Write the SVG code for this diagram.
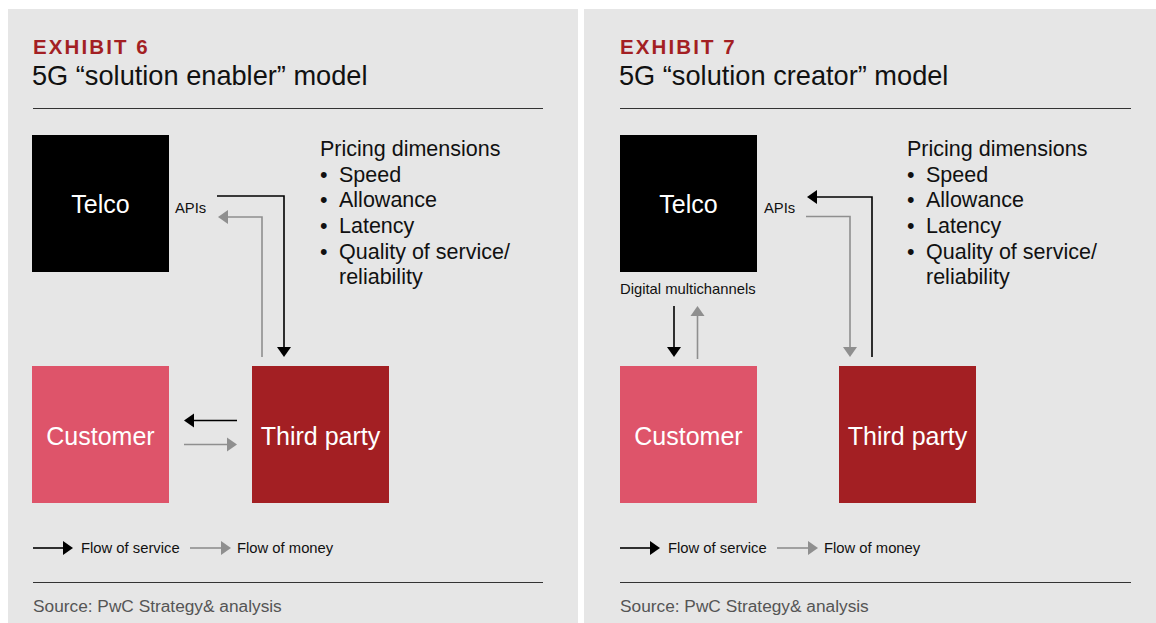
<svg xmlns="http://www.w3.org/2000/svg" width="1156" height="623" viewBox="0 0 1156 623">
<defs>
<style>
text{font-family:"Liberation Sans",Arial,sans-serif}
.ex{font-size:20.5px;font-weight:bold;fill:#a31f23;letter-spacing:2.1px}
.tt{font-size:27.2px;fill:#111}
.nl{font-size:25px;fill:#fff;text-anchor:middle}
.pd{font-size:21.5px;fill:#111}
.sm{font-size:14.8px;fill:#111}
.lg{font-size:14.8px;fill:#111}
.src{font-size:17.3px;fill:#555}
.rule{stroke:#333;stroke-width:1}
.svc{stroke:#000;stroke-width:1.6;fill:none}
.mon{stroke:#8f8f8f;stroke-width:1.6;fill:none}
</style>
<path id="tri" d="M0,-7L10,0L0,7z"/>
</defs>
<rect width="1156" height="623" fill="#fff"/>
<rect x="8" y="9" width="570" height="614" fill="#e6e6e6"/>
<rect x="584" y="9" width="572" height="614" fill="#e6e6e6"/>

<!-- Panel 1 -->
<g id="panel1-header">
<text class="ex" x="33" y="54">EXHIBIT 6</text>
<text class="tt" x="32" y="85">5G “solution enabler” model</text>
<line class="rule" x1="33" y1="108.5" x2="543" y2="108.5"/>
</g>
<g id="p1-telco"><rect x="32" y="135" width="137" height="137" fill="#000"/><text class="nl" x="100.5" y="213">Telco</text></g>
<g id="p1-customer"><rect x="32" y="366" width="137" height="137" fill="#de546a"/><text class="nl" x="100.5" y="445">Customer</text></g>
<g id="p1-thirdparty"><rect x="252" y="366" width="137" height="137" fill="#a31f23"/><text class="nl" x="320.5" y="445">Third party</text></g>
<g id="p1-pricing">
<text class="pd" x="320" y="156">Pricing dimensions</text>
<text class="pd" x="320" y="182">•</text><text class="pd" x="339" y="182">Speed</text>
<text class="pd" x="320" y="207">•</text><text class="pd" x="339" y="207">Allowance</text>
<text class="pd" x="320" y="233">•</text><text class="pd" x="339" y="233">Latency</text>
<text class="pd" x="320" y="259">•</text><text class="pd" x="339" y="259">Quality of service/</text>
<text class="pd" x="339" y="284">reliability</text>
</g>
<g id="p1-connectors">
<text class="sm" x="175" y="213">APIs</text>
<polyline class="svc" points="217,196 284,196 284,348"/>
<use href="#tri" transform="translate(284,347) rotate(90)" fill="#000"/>
<polyline class="mon" points="262,357 262,217 227,217"/>
<use href="#tri" transform="translate(228,217) rotate(180)" fill="#8f8f8f"/>
<line class="svc" x1="237" y1="420.5" x2="194" y2="420.5"/>
<use href="#tri" transform="translate(194,420.5) rotate(180)" fill="#000"/>
<line class="mon" x1="184" y1="444.5" x2="228" y2="444.5"/>
<use href="#tri" transform="translate(227,444.5)" fill="#8f8f8f"/>
</g>
<g id="p1-legend">
<line class="svc" x1="33" y1="548" x2="64" y2="548"/>
<use href="#tri" transform="translate(63,548)" fill="#000"/>
<text class="lg" x="81" y="553">Flow of service</text>
<line class="mon" x1="190" y1="548" x2="222" y2="548"/>
<use href="#tri" transform="translate(221,548)" fill="#8f8f8f"/>
<text class="lg" x="237" y="553">Flow of money</text>
<line class="rule" x1="33" y1="582.5" x2="543" y2="582.5" stroke="#666"/>
<text class="src" x="33" y="612">Source: PwC Strategy&amp; analysis</text>
</g>

<!-- Panel 2 -->
<g id="panel2-header">
<text class="ex" x="620" y="54">EXHIBIT 7</text>
<text class="tt" x="619" y="85">5G “solution creator” model</text>
<line class="rule" x1="620" y1="108.5" x2="1131" y2="108.5"/>
</g>
<g id="p2-telco"><rect x="620" y="135" width="137" height="137" fill="#000"/><text class="nl" x="688.5" y="213">Telco</text></g>
<g id="p2-customer"><rect x="620" y="366" width="137" height="137" fill="#de546a"/><text class="nl" x="688.5" y="445">Customer</text></g>
<g id="p2-thirdparty"><rect x="839" y="366" width="137" height="137" fill="#a31f23"/><text class="nl" x="907.5" y="445">Third party</text></g>
<g id="p2-pricing">
<text class="pd" x="907" y="156">Pricing dimensions</text>
<text class="pd" x="907" y="182">•</text><text class="pd" x="926" y="182">Speed</text>
<text class="pd" x="907" y="207">•</text><text class="pd" x="926" y="207">Allowance</text>
<text class="pd" x="907" y="233">•</text><text class="pd" x="926" y="233">Latency</text>
<text class="pd" x="907" y="259">•</text><text class="pd" x="926" y="259">Quality of service/</text>
<text class="pd" x="926" y="284">reliability</text>
</g>
<g id="p2-connectors">
<text class="sm" x="620" y="294">Digital multichannels</text>
<line class="svc" x1="674" y1="306" x2="674" y2="348"/>
<use href="#tri" transform="translate(674,347) rotate(90)" fill="#000"/>
<line class="mon" x1="697.5" y1="359" x2="697.5" y2="316"/>
<use href="#tri" transform="translate(697.5,316) rotate(-90)" fill="#8f8f8f"/>
<text class="sm" x="764" y="213">APIs</text>
<polyline class="mon" points="806,216.5 850,216.5 850,348"/>
<use href="#tri" transform="translate(850,347) rotate(90)" fill="#8f8f8f"/>
<polyline class="svc" points="872,357 872,197 816,197"/>
<use href="#tri" transform="translate(817,197) rotate(180)" fill="#000"/>
</g>
<g id="p2-legend">
<line class="svc" x1="620" y1="548" x2="651" y2="548"/>
<use href="#tri" transform="translate(650,548)" fill="#000"/>
<text class="lg" x="668" y="553">Flow of service</text>
<line class="mon" x1="777" y1="548" x2="809" y2="548"/>
<use href="#tri" transform="translate(808,548)" fill="#8f8f8f"/>
<text class="lg" x="824" y="553">Flow of money</text>
<line class="rule" x1="620" y1="582.5" x2="1131" y2="582.5" stroke="#666"/>
<text class="src" x="620" y="612">Source: PwC Strategy&amp; analysis</text>
</g>
</svg>
